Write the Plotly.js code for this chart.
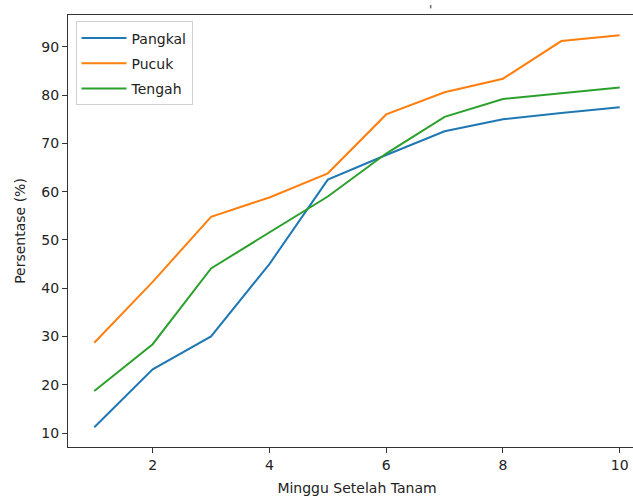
<!DOCTYPE html>
<html>
<head>
<meta charset="utf-8">
<script src="https://cdn.plot.ly/plotly-3.0.1.min.js"></script>
<style>
html, body { margin: 0; padding: 0; overflow: hidden; background: #fff; }
#chart { width: 660px; height: 498px; }
</style>
</head>
<body>
<div id="chart"></div>
<script>
const minggu = [1, 2, 3, 4, 5, 6, 7, 8, 9, 10];
const pangkal = [11.2, 23.2, 30.0, 45.0, 62.5, 67.6, 72.5, 75.0, 76.3, 77.5];
const pucuk = [28.7, 41.3, 54.8, 58.8, 63.8, 76.0, 80.6, 83.4, 91.2, 92.4];
const tengah = [18.7, 28.4, 44.1, 51.6, 59.0, 67.9, 75.5, 79.2, 80.4, 81.6];
const seriesNames = ["Pangkal", "Pucuk", "Tengah"];
const colors = ["#1f77b4", "#ff7f0e", "#2ca02c"];
const xTicks = [2, 4, 6, 8, 10];
const yTicks = [10, 20, 30, 40, 50, 60, 70, 80, 90];

const data = [pangkal, pucuk, tengah].map((ys, i) => ({
  x: minggu, y: ys, type: "scatter", mode: "lines", name: seriesNames[i],
  legendgroup: "g" + i,
  line: { color: colors[i], width: 2 }
}));

const font = { family: "DejaVu Sans, sans-serif", size: 14, color: "#222" };
const layout = {
  width: 660, height: 498,
  margin: { l: 68, r: 14, t: 15, b: 51 },
  paper_bgcolor: "#fff", plot_bgcolor: "#fff",
  font: font,
  showlegend: true,
  legend: {
    x: 0.013, y: 0.985, xanchor: "left", yanchor: "top",
    traceorder: "grouped", tracegroupgap: 4, itemwidth: 45,
    bgcolor: "rgba(255,255,255,0.8)", bordercolor: "#d0d0d0", borderwidth: 1,
    font: { family: "DejaVu Sans, sans-serif", size: 14, color: "#222" }
  },
  xaxis: {
    range: [0.55, 10.45], tickvals: xTicks, ticktext: xTicks.map(String),
    showgrid: false, zeroline: false, showline: true, mirror: true,
    linecolor: "#333", linewidth: 1, ticks: "outside", ticklen: 5, tickcolor: "#333",
    title: { text: "Minggu Setelah Tanam", font: font, standoff: 11 }
  },
  yaxis: {
    range: [7.1, 96.6], tickvals: yTicks, ticktext: yTicks.map(String),
    showgrid: false, zeroline: false, showline: true, mirror: true,
    linecolor: "#333", linewidth: 1, ticks: "outside", ticklen: 5, tickcolor: "#333",
    title: { text: "Persentase (%)", font: font, standoff: 12 }
  },
  annotations: [{
    text: "'", xref: "paper", yref: "paper", x: 0.6263, y: 1.0, yanchor: "bottom",
    showarrow: false, font: { family: "DejaVu Sans, sans-serif", size: 12, color: "#333" }, yshift: -4
  }]
};
Plotly.newPlot("chart", data, layout, { displayModeBar: false, staticPlot: true });
</script>
</body>
</html>
